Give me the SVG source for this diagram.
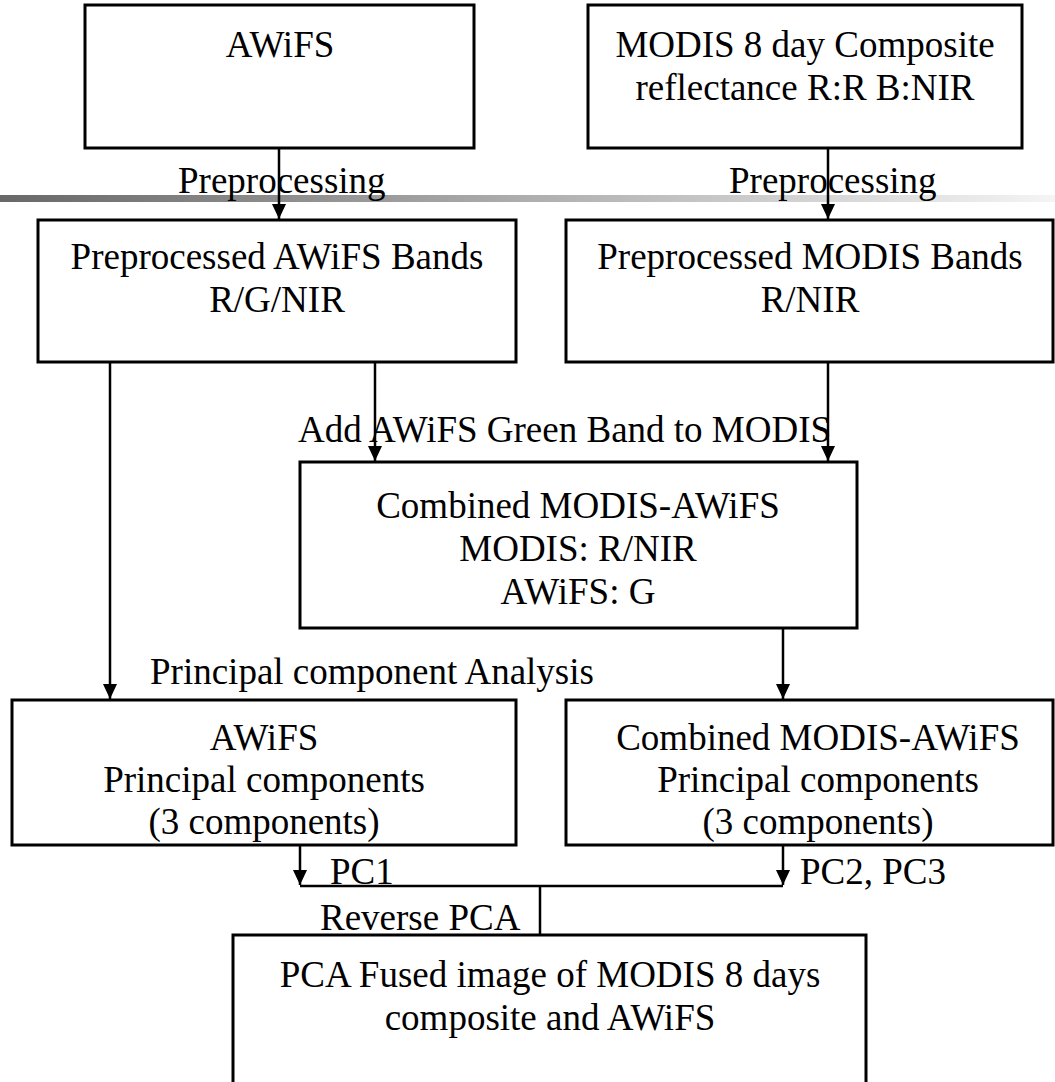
<svg xmlns="http://www.w3.org/2000/svg" width="1055" height="1082" viewBox="0 0 1055 1082">
<style>
.box{fill:#fff;stroke:#000;stroke-width:3}
.t{font-family:"Liberation Serif","Times New Roman",serif;font-size:37px;fill:#000}
.c{text-anchor:middle}
.ln{fill:none;stroke:#000;stroke-width:2.5}
</style>
<defs>
<linearGradient id="bar" x1="0" y1="0" x2="1" y2="0">
<stop offset="0" stop-color="#686868"/>
<stop offset="1" stop-color="#f4f4f4"/>
</linearGradient>
<marker id="ah" viewBox="0 0 15 14" refX="15" refY="7" markerWidth="15" markerHeight="14" markerUnits="userSpaceOnUse" orient="auto">
<path d="M0,0 L15,7 L0,14 Z" fill="#000"/>
</marker>
</defs>
<rect x="0" y="195" width="1055" height="7" fill="url(#bar)"/>
<g id="n1"><rect class="box" x="85" y="5" width="389" height="143"/><text class="t c" x="280" y="57">AWiFS</text></g>
<g id="n2"><rect class="box" x="588" y="5" width="434" height="143"/><text class="t c" x="805" y="57">MODIS 8 day Composite</text><text class="t c" x="805" y="100">reflectance  R:R B:NIR</text></g>
<g id="n3"><rect class="box" x="38" y="220" width="478" height="142"/><text class="t c" x="277" y="269">Preprocessed AWiFS Bands</text><text class="t c" x="277" y="312">R/G/NIR</text></g>
<g id="n4"><rect class="box" x="566" y="220" width="487" height="142"/><text class="t c" x="810" y="269">Preprocessed MODIS Bands</text><text class="t c" x="810" y="312">R/NIR</text></g>
<g id="n5"><rect class="box" x="300" y="462" width="557" height="166"/><text class="t c" x="578" y="518">Combined MODIS-AWiFS</text><text class="t c" x="578" y="561">MODIS: R/NIR</text><text class="t c" x="578" y="604">AWiFS: G</text></g>
<g id="n6"><rect class="box" x="12" y="700" width="504" height="145"/><text class="t c" x="264" y="750">AWiFS</text><text class="t c" x="264" y="792">Principal components</text><text class="t c" x="264" y="834">(3 components)</text></g>
<g id="n7"><rect class="box" x="566" y="700" width="487" height="145"/><text class="t c" x="818" y="750">Combined MODIS-AWiFS</text><text class="t c" x="818" y="792">Principal components</text><text class="t c" x="818" y="834">(3 components)</text></g>
<g id="n8"><rect class="box" x="233" y="935" width="633" height="160"/><text class="t c" x="550" y="987">PCA Fused image of MODIS 8 days</text><text class="t c" x="550" y="1030">composite and AWiFS</text></g>
<g id="labels">
<text class="t" x="178" y="193">Preprocessing</text>
<text class="t" x="729" y="193">Preprocessing</text>
<text class="t" x="298" y="442">Add AWiFS Green Band to MODIS</text>
<text class="t" x="150" y="684">Principal component Analysis</text>
<text class="t" x="330" y="884">PC1</text>
<text class="t" x="800" y="884">PC2, PC3</text>
<text class="t" x="320" y="930">Reverse PCA</text>
</g>
<g id="connectors">
<line class="ln" x1="279" y1="148" x2="279" y2="219" marker-end="url(#ah)"/>
<line class="ln" x1="828" y1="148" x2="828" y2="219" marker-end="url(#ah)"/>
<line class="ln" x1="110" y1="362" x2="110" y2="699" marker-end="url(#ah)"/>
<line class="ln" x1="375" y1="362" x2="375" y2="461" marker-end="url(#ah)"/>
<line class="ln" x1="828" y1="362" x2="828" y2="461" marker-end="url(#ah)"/>
<line class="ln" x1="783" y1="628" x2="783" y2="699" marker-end="url(#ah)"/>
<line class="ln" x1="300" y1="845" x2="300" y2="885" marker-end="url(#ah)"/>
<line class="ln" x1="783" y1="845" x2="783" y2="885" marker-end="url(#ah)"/>
<line class="ln" x1="300" y1="886" x2="783" y2="886"/>
<line class="ln" x1="540" y1="886" x2="540" y2="935"/>
</g>
</svg>
